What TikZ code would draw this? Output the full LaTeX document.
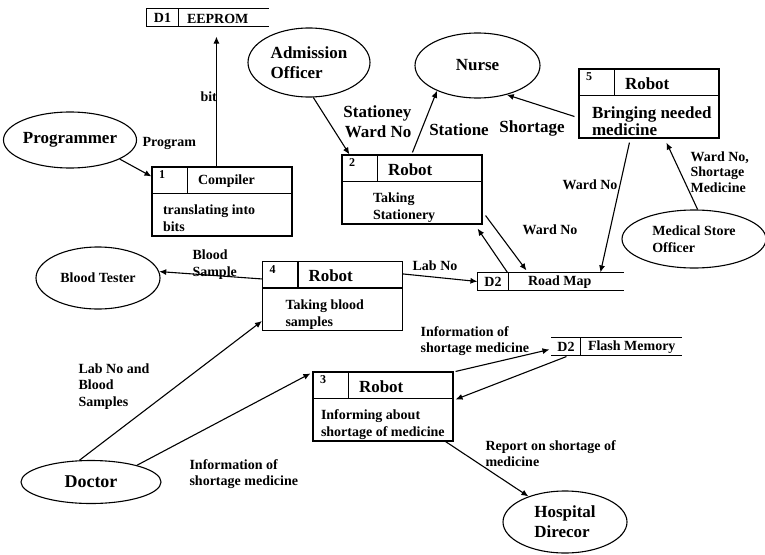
\documentclass[tikz,border=0pt]{standalone}
\usepackage{fontspec}
\setmainfont{Liberation Serif}
\usetikzlibrary{arrows.meta,calc,shapes.geometric}
\newcommand\procbox[6]{%
  \node[pbox] (#1) at (#2) {};
  \draw ($(#1.north west)+(0,27)$) -- ($(#1.north east)+(0,27)$);
  \draw ($(#1.north west)+(36,0)$) -- ($(#1.north west)+(36,27)$);
  \node[num, anchor=north west] (#1n) at ($(#1.north west)+(7,4)$) {#3};
  \node[bg, anchor=west] (#1t) at ($(#1.north west)+(46,15)$) {#4};
  \node[sm, anchor=north west] (#1b) at ($(#1.north west)+(#6,38)$) {#5};
}
\newcommand\storebox[8]{% name, center, width, divider offset, id, label, label offset, left edge
  \node[minimum width=#3pt, minimum height=17pt, inner sep=0pt] (#1) at (#2) {};
  \draw (#1.north west) -- (#1.north east);
  \draw (#1.south west) -- (#1.south east);
  #8
  \draw ($(#1.north west)+(#4,0)$) -- ($(#1.south west)+(#4,0)$);
  \node[sm] (#1i) at ($(#1.west)+(#4/2,0)$) {#5};
  \node[sm, anchor=west] (#1l) at ($(#1.west)+(#7,1)$) {#6};
}
\begin{document}
\begin{tikzpicture}[x=1pt,y=-1pt,
  line width=1.1pt,
  ent/.style={draw, ellipse, inner sep=0pt, line width=1.1pt, align=left},
  sm/.style={font=\fontsize{14}{17}\selectfont\bfseries, inner sep=0pt, align=left},
  bg/.style={font=\fontsize{17}{20}\selectfont\bfseries, inner sep=0pt, align=left},
  num/.style={font=\fontsize{12}{14}\selectfont\bfseries, inner sep=0pt},
  pbox/.style={draw, minimum width=140pt, minimum height=69pt, inner sep=0pt},
  arr/.style={-{Latex[length=7pt,width=6pt]}},
]
\useasboundingbox (0,0) rectangle (765,554);

% external entities
\node[ent, bg, minimum width=126pt, minimum height=56pt] (prog) at (70,140) {Programmer};
\node[ent, bg, minimum width=122pt, minimum height=69pt] (adm) at (309,62.5) {Admission\\Officer};
\node[ent, bg, minimum width=125pt, minimum height=65pt] (nurse) at (477.5,65.5) {Nurse};
\node[ent, sm, minimum width=144pt, minimum height=58pt] (mso) at (694,239) {Medical Store\\Officer};
\node[ent, sm, minimum width=124pt, minimum height=62pt] (bt) at (98,278) {Blood Tester};
\node[ent, bg, font=\fontsize{18}{20}\selectfont\bfseries, minimum width=140pt, minimum height=43pt] (doc) at (91,482) {Doctor};
\node[ent, bg, minimum width=124pt, minimum height=62pt] (hd) at (565,522) {Hospital\\Direcor};

% processes
\procbox{b1}{222,201.5}{1}{\fontsize{14}{17}\selectfont Compiler}{translating into\\bits}{11}
\procbox{b2}{412,189.5}{2}{Robot}{Taking\\Stationery}{31}
\procbox{b5}{649,103.5}{5}{Robot}{\fontsize{17}{18}\selectfont Bringing needed\\\fontsize{17}{18}\selectfont medicine}{13}
\procbox{b4}{332.5,296}{4}{Robot}{Taking blood\\samples}{23}
\procbox{b3}{383,406.5}{3}{Robot}{Informing about\\shortage of medicine}{8}

% data stores
\storebox{d1}{207.5,17.5}{121}{32}{D1}{EEPROM}{40}{\draw (d1.north west) -- (d1.south west);}
\storebox{road}{550.5,281.5}{145}{31}{D2}{Road Map}{50}{\draw (road.north west) -- (road.south west);}
\storebox{flash}{616.5,346.5}{129}{29}{D2}{Flash Memory}{36}{}

% flows
\draw[arr] (prog.-21) -- ($(b1.north west)+(0,10)$);
\draw[arr] ($(b1.north west)+(65,0)$) -- ($(d1.south west)+(70,10)$);
\draw[arr] (adm.-83) -- ($(b2.north west)+(8,0)$);
\draw[arr] ($(b2.north west)+(71,-2)$) -- (nurse.-148);
\draw[arr] ($(b5.west)+(-4,13)$) -- (nurse.-45);
\draw[arr] ($(b5.south west)+(51,4)$) -- ($(road.north west)+(123,0)$);
\draw[arr] (mso.83) -- ($(b5.south west)+(88,4)$);
\draw[arr] ($(road.north west)+(30,0)$) -- ($(b2.south east)+(-5,4)$);
\draw[arr] ($(b2.south east)+(3,-9)$) -- ($(road.north west)+(49,-2)$);
\draw[arr] ($(b4.north west)+(0,18)$) -- (bt.6);
\draw[arr] ($(b4.north east)+(0,13)$) -- (road.west);
\draw[arr] (doc.118) -- ($(b4.south west)+(0,-10)$);
\draw[arr] (doc.20) -- ($(b3.north west)+(-2,2)$);
\draw[arr] ($(b3.north east)+(2,0)$) -- ($(flash.west)+(-2,3)$);
\draw[arr] ($(flash.south west)+(15,1)$) -- ($(b3.north east)+(2,28)$);
\draw[arr] ($(b3.south east)+(-8,0)$) -- (hd.145);

% flow labels
\node[sm, anchor=west] (lprog) at (142,143) {Program};
\node[sm, anchor=west] (lbit) at (200,97) {bit};
\node[bg, anchor=east, align=right] (ladm) at (412,122) {Stationey\\Ward No};
\node[bg] (lstat) at (459,130) {Statione};
\node[bg] (lshort) at (532,128) {Shortage};
\node[sm] (lward1) at (590,185) {Ward No};
\node[sm, anchor=west, font=\fontsize{14}{15.5}\selectfont\bfseries] (lmso) at (690,172) {Ward No,\\Shortage\\Medicine};
\node[sm] (lward2) at (550,230) {Ward No};
\node[sm, anchor=west, font=\fontsize{14}{17}\selectfont\bfseries] (lblood) at (192,264.5) {Blood\\Sample};
\node[sm] (llab) at (435,266) {Lab No};
\node[sm, anchor=west, font=\fontsize{14}{16.5}\selectfont\bfseries] (ldoc1) at (78,386.5) {Lab No and\\Blood\\Samples};
\node[sm, anchor=west, font=\fontsize{14}{16}\selectfont\bfseries] (ldoc2) at (189,474) {Information of\\shortage medicine};
\node[sm, anchor=west, font=\fontsize{14}{16}\selectfont\bfseries] (linfo) at (420,341) {Information of\\shortage medicine};
\node[sm, anchor=west, font=\fontsize{14}{16}\selectfont\bfseries] (lrep) at (485,454) {Report on shortage of\\medicine};
\end{tikzpicture}
\end{document}
